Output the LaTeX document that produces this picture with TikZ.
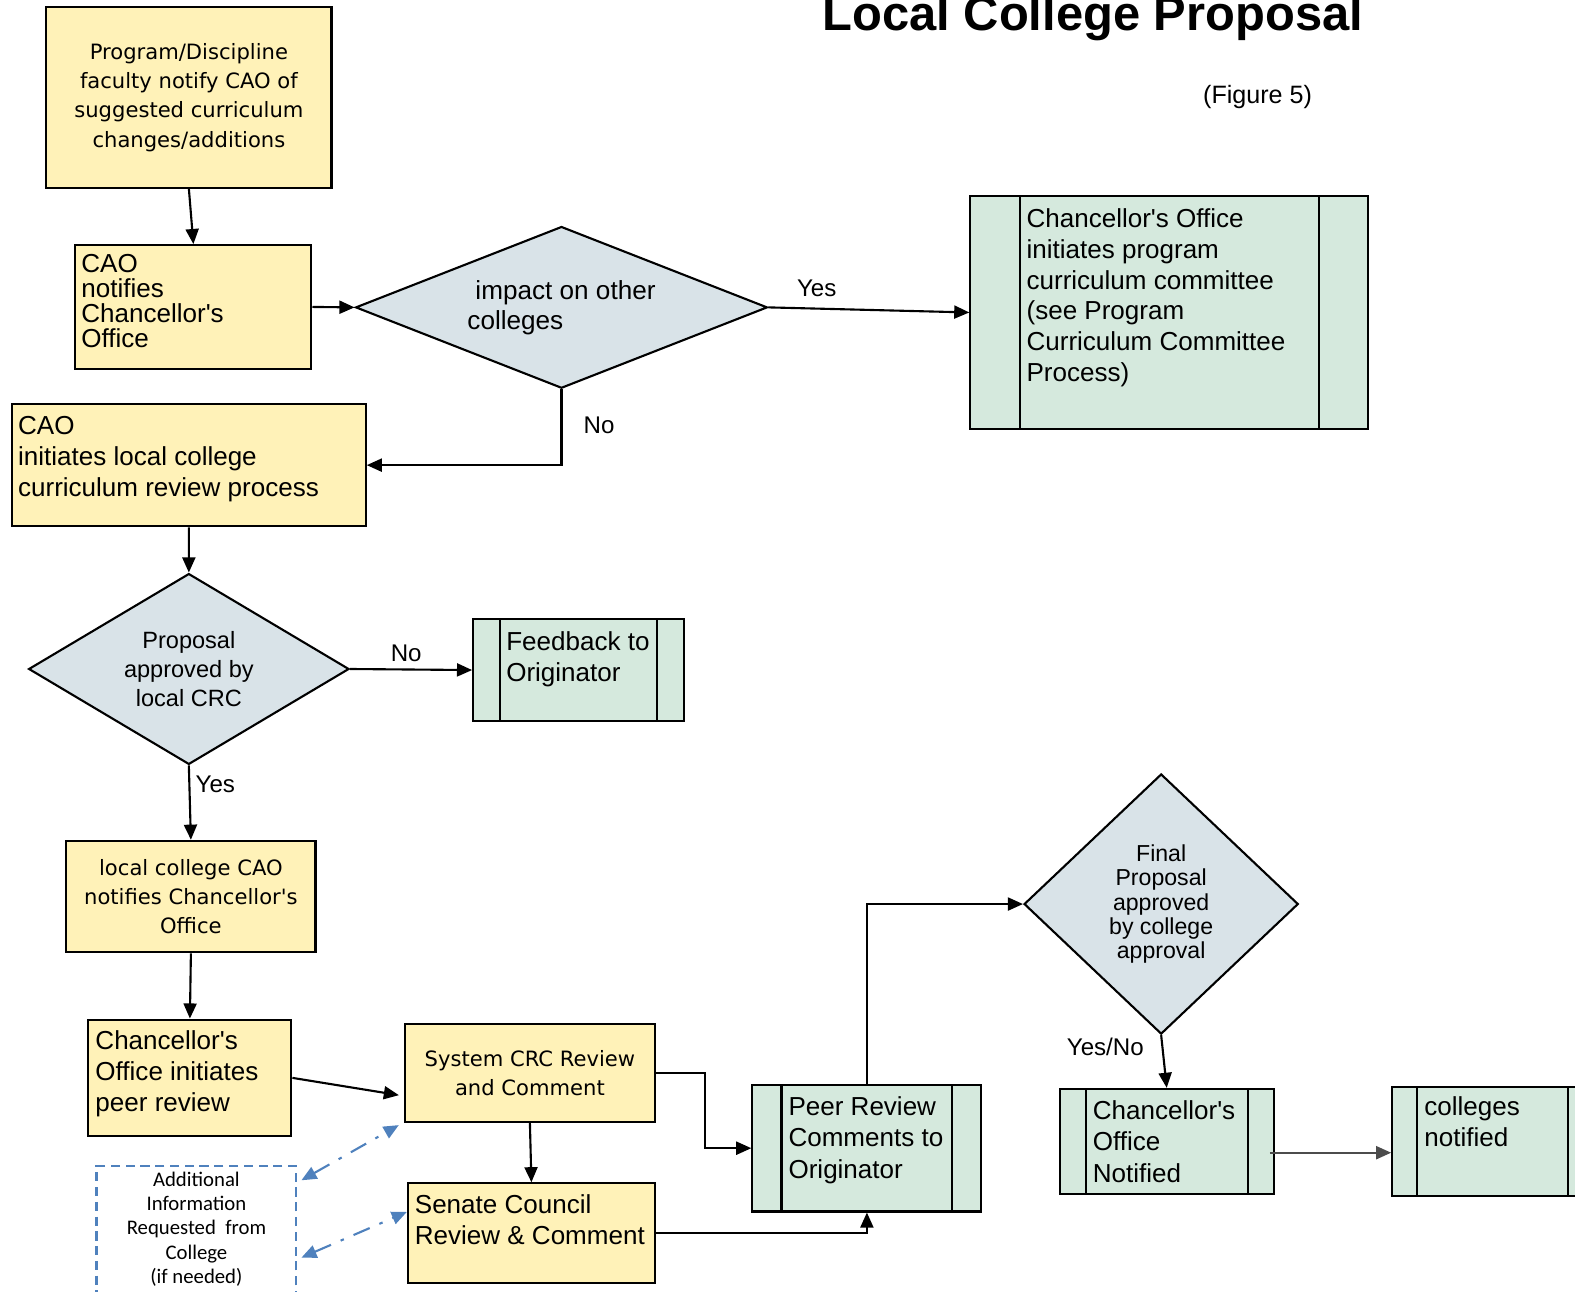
\documentclass[tikz,border=0pt]{standalone}
\usepackage{fontspec}
\setmainfont{Liberation Sans}[Ligatures=TeXOff]
\newfontfamily\tahoma{DejaVu Sans}[Ligatures=TeXOff]
\newfontfamily\calibri{Carlito}
\usetikzlibrary{shapes.geometric, arrows.meta}

\definecolor{boxyellow}{RGB}{255,242,184}
\definecolor{boxgreen}{RGB}{213,233,221}
\definecolor{decgrey}{RGB}{217,227,232}
\definecolor{infoblue}{RGB}{79,129,189}

\newdimen\px \px=0.010045cm
% width, height, top gap, left gap, lines
\newcommand{\boxlines}[5]{\parbox[c][#2\px][t]{#1\px}{\raggedright\leftskip=#4\px\relax\vspace*{#3\px}#5}}

\begin{document}
\begin{tikzpicture}[x=0.010045cm, y=-0.010045cm,
    ybox/.style={draw, fill=boxyellow, line width=0.6pt, inner sep=0pt, anchor=north west,
        font=\fontsize{7.4}{8.86}\selectfont},
    tbox/.style={ybox, align=center, font=\tahoma\fontsize{6.0}{8.29}\selectfont},
    gbox/.style={ybox, fill=boxgreen, path picture={
        \draw[line width=0.6pt] ([xshift=#1\px]path picture bounding box.north west) -- ([xshift=#1\px]path picture bounding box.south west)
            ([xshift=-#1\px]path picture bounding box.north east) -- ([xshift=-#1\px]path picture bounding box.south east);}},
    decision/.style={diamond, draw, fill=decgrey, line width=0.6pt, inner sep=0pt, align=center},
    infobox/.style={draw=infoblue, line width=0.6pt, dash pattern=on 2.6pt off 1.6pt, inner sep=0pt, anchor=north west,
        font=\calibri\fontsize{5.9}{6.86}\selectfont},
    flow/.style={-{Triangle[length=4.3pt,width=3.7pt]}, line width=0.6pt},
    infoline/.style={{Triangle[length=4.3pt,width=3.7pt]}-{Triangle[length=4.3pt,width=3.7pt]}, draw=infoblue,
        line width=0.6pt, dash pattern=on 5pt off 3pt on 1pt off 3pt},
    lbl/.style={font=\fontsize{6.86}{8}\selectfont, inner sep=1pt}]
    \useasboundingbox (0,0) rectangle (1568,1286);
    \clip (0,0) rectangle (1568,1286);

    % Draw nodes
    \node[font=\bfseries\fontsize{13.9}{16}\selectfont, anchor=base] (title) at (1088,30) {Local College Proposal};
    \node[font=\fontsize{7.14}{8}\selectfont] (figno) at (1252,97) {(Figure 5)};

    \node[tbox, minimum width=284\px, minimum height=180\px] (prog) at (45,6) {Program/Discipline\\faculty notify CAO of\\suggested curriculum\\changes/additions};
    \node[ybox, font=\fontsize{7.4}{7.14}\selectfont] (caoNotify) at (74,243) {\boxlines{235}{123}{9}{6}{CAO\\notifies\\Chancellor's\\Office}};
    \node[decision, aspect=2.55, minimum width=410\px, minimum height=161\px, align=left,
        font=\fontsize{7.43}{8.57}\selectfont] (impact) at (559,306) {\hspace*{8\px}impact on other\\colleges};
    \node[gbox=49, font=\fontsize{7.4}{8.72}\selectfont] (coInit) at (965,194) {\boxlines{396}{232}{13}{56}{Chancellor's Office\\initiates program\\curriculum committee\\(see Program\\Curriculum Committee\\Process)}};
    \node[ybox] (caoInit) at (11,401) {\boxlines{352}{122}{12}{6}{CAO\\initiates local college\\curriculum review process}};
    \node[decision, aspect=1.68, minimum width=319\px, minimum height=190\px,
        font=\fontsize{6.7}{8.29}\selectfont] (crc) at (188,666) {Proposal\\approved by\\local CRC};
    \node[gbox=27] (feedback) at (470,615) {\boxlines{210}{102}{13}{33}{Feedback to\\Originator}};
    \node[tbox, minimum width=248\px, minimum height=111\px] (localCAO) at (65,836) {local college CAO\\notifies Chancellor's\\Office};
    \node[ybox] (coPeer) at (87,1014) {\boxlines{202}{116}{11}{7}{Chancellor's\\Office initiates\\peer review}};
    \node[tbox, minimum width=249\px, minimum height=98\px] (sysCRC) at (402,1018) {System CRC Review\\and Comment};
    \node[ybox] (senate) at (405,1177) {\boxlines{246}{99}{11}{7}{Senate Council\\Review \& Comment}};
    \node[infobox] (addInfo) at (95,1160) {\parbox[c][140\px][t]{199\px}{\centering\vspace*{6\px}Additional\\Information\\Requested~~from\\College\\(if needed)}};
    \node[gbox=29] (peerRev) at (748,1079) {\boxlines{228}{126}{12}{36}{Peer Review\\Comments to\\Originator}};
    \node[decision, aspect=1.05, minimum width=273\px, minimum height=259\px,
        font=\fontsize{6.57}{6.86}\selectfont] (final) at (1156,900) {Final\\Proposal\\approved\\by college\\approval};
    \node[gbox=26] (coNotified) at (1054,1083) {\boxlines{213}{105}{12}{33}{Chancellor's\\Office\\Notified}};
    \node[gbox=25] (colleges) at (1385,1081) {\boxlines{200}{109}{10}{32}{colleges\\notified}};

    % Draw connections
    \draw[flow] (prog.south) -- (caoNotify.north);
    \draw[flow] (caoNotify.east) -- (impact.west);
    \draw[flow] (impact.east) -- node[lbl, pos=0.24, above=2pt] {Yes} (coInit.west);
    \draw[flow] (impact.south) |- node[lbl, pos=0.24, right=5pt] {No} (caoInit.east);
    \draw[flow] (caoInit.south) -- (crc.north);
    \draw[flow] (crc.east) -- node[lbl, pos=0.46, above=1pt] {No} (feedback.west);
    \draw[flow] (crc.south) -- node[lbl, pos=0.25, right=0.5pt] {Yes} (localCAO.north);
    \draw[flow] (localCAO.south) -- (coPeer.north);
    \draw[flow, shorten >=1.4pt] (coPeer.east) -- ([yshift=-23\px]sysCRC.west);
    \draw[flow] (sysCRC.east) -- ++(49,0) |- (peerRev.west);
    \draw[flow] (sysCRC.south) -- (senate.north);
    \draw[flow] (senate.east) -| (peerRev.south);
    \draw[flow] (peerRev.north) |- (final.west);
    \draw[flow] (final.south) -- node[lbl, pos=0.22, left=4pt] {Yes/No} (coNotified.north);
    \draw[flow, draw=black!70] ([shift={(-5\px,-11\px)}]coNotified.east) -- ([yshift=-11\px]colleges.west);

    % Requests for more information
    \draw[infoline] ([shift={(4\px,-15\px)}]addInfo.north east) -- ([shift={(-5\px,-2\px)}]sysCRC.south west);
    \draw[infoline] ([shift={(4\px,-92\px)}]addInfo.north east) -- ([yshift=21\px]senate.west);
\end{tikzpicture}
\end{document}
